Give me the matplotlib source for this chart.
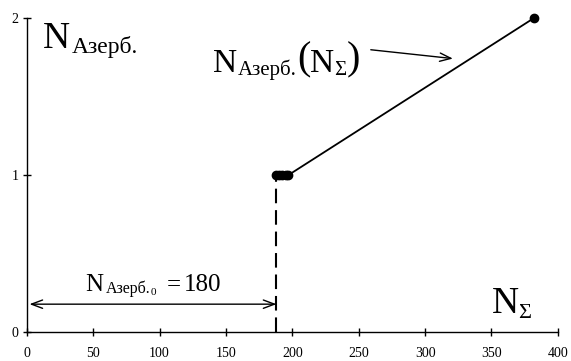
import matplotlib
matplotlib.use("Agg")
import matplotlib.pyplot as plt
from matplotlib.transforms import offset_copy

plt.rcParams['font.family'] = ['Liberation Serif', 'DejaVu Serif']

# data
n_sum = [188, 190, 192, 195, 197, 382]
n_azerb = [1, 1, 1, 1, 1, 2]
n0 = 188          # position of the jump
n0_label = 180    # value written on the chart
x_ticks = [0, 50, 100, 150, 200, 250, 300, 350, 400]
y_ticks = [0, 1, 2]

fig = plt.figure(figsize=(5.71, 3.61), dpi=100)
ax = fig.add_axes([0.047, 0.080, 0.930, 0.870])

# dashed jump from 0 to 1
ax.plot([n0, n0], [0, 1], color='black', lw=1.5, dashes=(7, 3.3))
# the step line with points
ax.plot(n_sum, n_azerb, color='black', lw=1.3, marker='o', markersize=6, clip_on=False)

ax.set_xlim(0, 400)
ax.set_ylim(0, 2)
ax.set_xticks(x_ticks)
ax.set_yticks(y_ticks)
ax.tick_params(direction='inout', length=6, width=1, labelsize=10, pad=8)
ax.tick_params(axis='y', pad=3)
for s in ['top', 'right']:
    ax.spines[s].set_visible(False)
for s in ['left', 'bottom']:
    ax.spines[s].set_linewidth(1)

renderer = fig.canvas.get_renderer()


def chain(x, y, parts):
    # parts: (text, fontsize, baseline shift in pt, gap before in pt)
    dx = 0
    for txt, size, dy, gap in parts:
        dx += gap
        tr = offset_copy(ax.transData, fig=fig, x=dx, y=dy, units='points')
        t = ax.text(x, y, txt, fontsize=size, ha='left', va='baseline', transform=tr)
        w = t.get_window_extent(renderer).width * 72 / fig.dpi
        dx += w


# labels
chain(12, 1.809, [('N', 27, 0, 0), ('Азерб.', 17, -3.6, 1)])
chain(350, 0.121, [('N', 27, 0, 0), ('Σ', 16, -3.6, 0)])
chain(140, 1.656, [('N', 24, 0, 0), ('Азерб.', 15, -2.2, 1),
                   ('(', 29, 2, 0), ('N', 24, 0, 0), ('Σ', 15, -2.2, 0), (')', 29, 2, 0)])
ax.annotate('', xy=(323, 1.74), xytext=(257, 1.80),
            arrowprops=dict(arrowstyle='->,head_length=0.8,head_width=0.3', color='black', lw=1))

# N0 width arrow
ax.annotate('', xy=(n0, 0.178), xytext=(2, 0.178),
            arrowprops=dict(arrowstyle='<->,head_length=0.8,head_width=0.3', color='black', lw=1,
                            shrinkA=0, shrinkB=0))
chain(43.7, 0.261, [('N', 18, 0, 0), ('Азерб.', 11.5, -1.5, 2), ('0', 8, -2.5, 0),
                    ('=', 18, 0, 8), ('%d' % n0_label, 18, 0, 2)])

fig.savefig('out.png', dpi=100)
